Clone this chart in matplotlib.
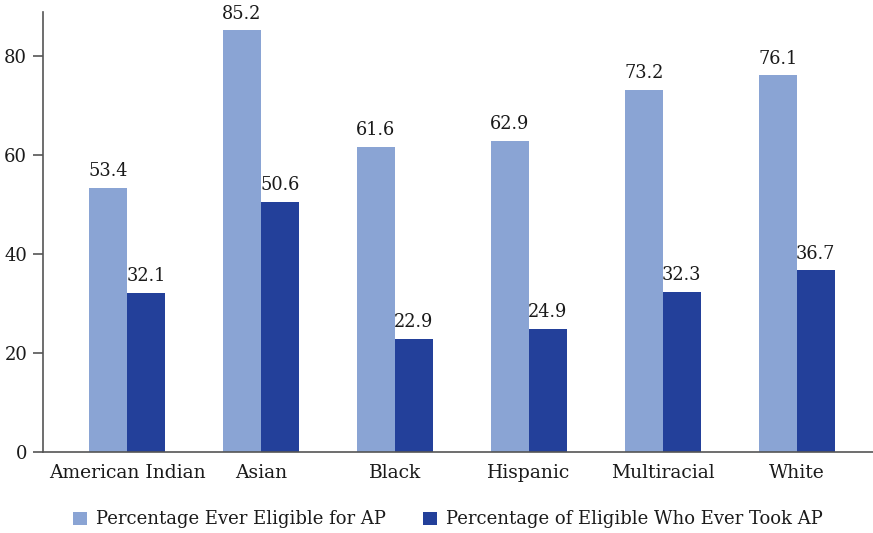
import matplotlib.pyplot as plt
import numpy as np

groups = ["American Indian", "Asian", "Black", "Hispanic", "Multiracial", "White"]
eligible = [53.4, 85.2, 61.6, 62.9, 73.2, 76.1]
took = [32.1, 50.6, 22.9, 24.9, 32.3, 36.7]
series_names = ["Percentage Ever Eligible for AP",
                "Percentage of Eligible Who Ever Took AP"]
yticks = [0, 20, 40, 60, 80]

light = "#8aa4d4"
dark = "#23409a"

plt.rcParams['font.family'] = ['DejaVu Serif']

fig = plt.figure(figsize=(8.73, 5.33), dpi=100)
ax = fig.add_axes([0.049, 0.152, 0.951, 0.8255])

x = np.arange(len(groups))
w = 0.284
b1 = ax.bar(x - w / 2, eligible, w, color=light, label=series_names[0])
b2 = ax.bar(x + w / 2, took, w, color=dark, label=series_names[1])

for bars, vals in [(b1, eligible), (b2, took)]:
    for rect, v in zip(bars, vals):
        ax.annotate("{:.1f}".format(v), (rect.get_x() + rect.get_width() / 2, v),
                    xytext=(0, 5.5), textcoords="offset points",
                    ha="center", va="bottom", fontsize=12.8, color="#1a1a1a")

ax.set_xlim(-0.63, 5.57)
ax.set_ylim(0, 88.9)
ax.set_yticks(yticks)
ax.set_xticks(x)
ax.set_xticklabels(groups)

for s in ["top", "right"]:
    ax.spines[s].set_visible(False)
for s in ["left", "bottom"]:
    ax.spines[s].set_color("#555555")
    ax.spines[s].set_linewidth(1.2)

ax.tick_params(axis="y", length=7.2, width=1.2, color="#555555", labelsize=13, pad=4,
               labelcolor="#1a1a1a")
ax.tick_params(axis="x", length=0, labelsize=13.5, pad=9, labelcolor="#1a1a1a")

leg = fig.legend(handles=[b1, b2], loc="lower center", ncol=2, frameon=False,
                 bbox_to_anchor=(0.513, -0.022), fontsize=13, handlelength=0.75,
                 handleheight=0.75, handletextpad=0.5, columnspacing=2.1)
for t in leg.get_texts():
    t.set_color("#1a1a1a")

fig.savefig("out.png", dpi=100)
